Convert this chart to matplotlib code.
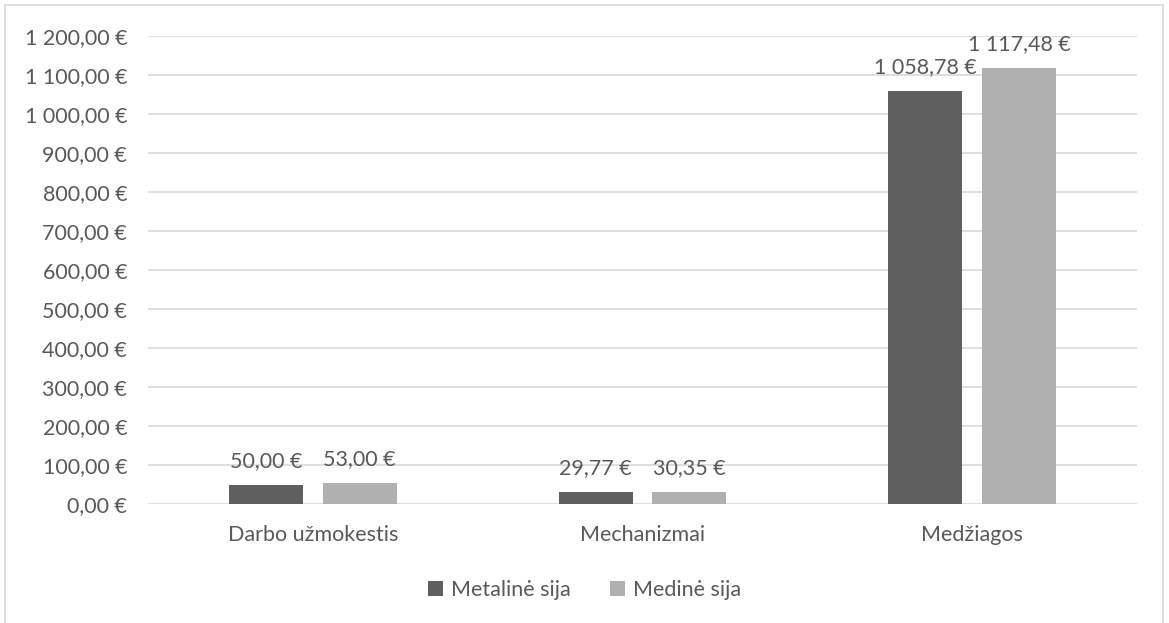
import matplotlib
matplotlib.use("Agg")
import matplotlib.pyplot as plt
from matplotlib.patches import Rectangle
import numpy as np

categories = ["Darbo užmokestis", "Mechanizmai", "Medžiagos"]
metaline = [50.00, 29.77, 1058.78]
medine = [53.00, 30.35, 1117.48]
series_names = ["Metalinė sija", "Medinė sija"]
yticks = list(range(0, 1300, 100))

plt.rcParams['font.family'] = ['Lato', 'DejaVu Sans']
TXT = '#595959'
FS = 15.5

def eur(v):
    s = f"{v:,.2f}"
    s = s.replace(",", " ").replace(".", ",")
    return s + " €"

fig = plt.figure(figsize=(11.69, 6.23), dpi=100)
fig.patches.append(Rectangle((5 / 1169, -0.01), 1158 / 1169, 1 - 5 / 623 + 0.01,
                             transform=fig.transFigure, fill=False,
                             edgecolor='#d9d9d9', linewidth=1.2))
ax = fig.add_axes([148 / 1169, 1 - 504 / 623, (1137 - 148) / 1169, (504 - 36) / 623])

x = np.arange(len(categories))
w = 0.224
gap = 0.06
b1 = ax.bar(x - (w + gap) / 2, metaline, w, color='#5f5f5f', label=series_names[0], zorder=3)
b2 = ax.bar(x + (w + gap) / 2, medine, w, color='#b0b0b0', label=series_names[1], zorder=3)

for bars in (b1, b2):
    for r in bars:
        ax.annotate(eur(r.get_height()), (r.get_x() + r.get_width() / 2, r.get_height()),
                    xytext=(0, 10), textcoords='offset points', ha='center', va='bottom',
                    fontsize=FS, color=TXT)

ax.set_xlim(-0.5, 2.5)
ax.set_ylim(0, 1200)
ax.set_yticks(yticks)
ax.set_yticklabels([eur(t) for t in yticks])
ax.set_xticks(x)
ax.set_xticklabels(categories)
ax.tick_params(axis='both', length=0, labelsize=FS, labelcolor=TXT)
ax.tick_params(axis='y', pad=15)
ax.tick_params(axis='x', pad=15)
ax.grid(axis='y', color='#d9d9d9', linewidth=1.2, zorder=0)
for s in ax.spines.values():
    s.set_visible(False)

fig.legend(loc='center', bbox_to_anchor=(0.5, 1 - 590 / 623), ncol=2, frameon=False,
           fontsize=FS, labelcolor=TXT, handlelength=0.7, handleheight=0.7,
           handletextpad=0.4, columnspacing=1.8)

fig.savefig("out.png", dpi=100)
